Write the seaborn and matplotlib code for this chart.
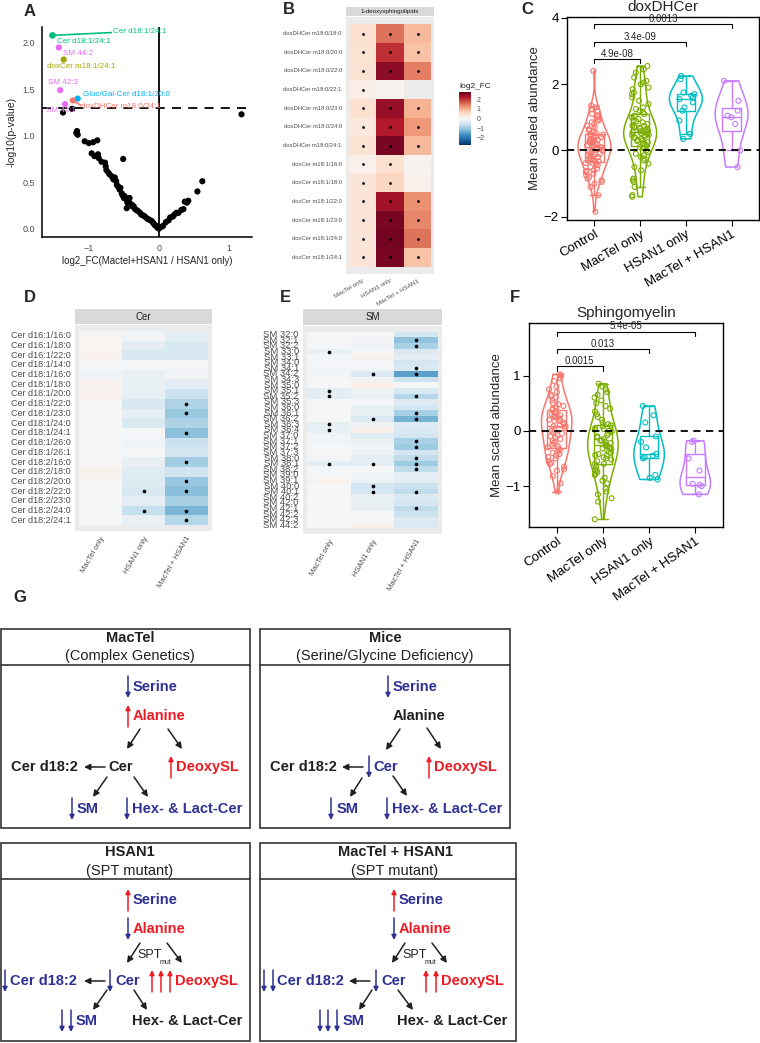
import numpy as np
import pandas as pd
import matplotlib
matplotlib.use("Agg")
import matplotlib.pyplot as plt
import seaborn as sns
from matplotlib.patches import Rectangle

sns.set_style("white")
plt.rcParams['font.family'] = ['Liberation Sans', 'DejaVu Sans']

# ---------------- DATA ----------------
# Panel A: volcano (black points)
vol_x = [-1.37,-1.24,-1.17,-1.18,-1.16,-1.06,-1.00,-0.94,-0.88,-0.96,-0.92,-0.87,-0.86,-0.82,-0.51,-0.77,-0.76,-0.75,
         -0.72,-0.70,-0.67,-0.65,-0.63,-0.61,-0.60,-0.58,-0.56,-0.55,-0.53,-0.52,-0.50,-0.49,-0.46,-0.45,-0.43,-0.42,
         -0.39,-0.38,-0.36,-0.46,-0.34,-0.32,-0.30,-0.27,-0.25,-0.22,-0.20,-0.17,-0.15,-0.12,-0.10,-0.08,-0.06,-0.04,
         -0.02,0.0,0.04,0.06,0.10,0.14,0.16,0.20,0.22,0.25,0.28,0.32,0.35,0.37,0.40,0.42,0.55,0.62,1.18]
vol_y = [1.25,1.29,1.05,1.03,1.01,0.94,0.92,0.93,0.95,0.81,0.78,0.80,0.76,0.72,0.75,0.71,0.67,0.63,
         0.60,0.58,0.56,0.53,0.55,0.51,0.47,0.45,0.42,0.44,0.38,0.36,0.33,0.35,0.31,0.28,0.29,0.33,
         0.26,0.24,0.24,0.22,0.21,0.20,0.19,0.17,0.15,0.14,0.13,0.11,0.10,0.09,0.08,0.06,0.04,0.03,
         0.01,0.0,0.02,0.03,0.07,0.09,0.12,0.13,0.15,0.17,0.17,0.20,0.21,0.29,0.28,0.30,0.40,0.51,1.23]
# labelled (significant) lipids
lab_names = ["Cer d18:1/24:1", "Cer d18:1/24:1", "SM 44:2", "doxCer m18:1/24:1", "SM 42:3",
             "Gluc/Gal-Cer d18:1/20:0", "doxDHCer m18:0/24:1", "SM 42:1"]
lab_cls = ["Cer", "Cer", "SM", "doxCer", "SM", "Gluc/Gal-Cer", "doxDHCer", "SM"]
lab_x = [-1.52, -1.52, -1.43, -1.36, -1.41, -1.16, -1.23, -1.34]
lab_y = [2.08, 2.08, 1.95, 1.82, 1.49, 1.40, 1.38, 1.34]
cls_pal = {"doxDHCer": "#F8766D", "doxCer": "#A3A500", "Cer": "#00BF7D",
           "Gluc/Gal-Cer": "#00B0F6", "SM": "#E76BF3"}

heat_cols = ["MacTel only", "HSAN1 only", "MacTel + HSAN1"]

# Panel B
B_rows = ["doxDHCer m18:0/18:0", "doxDHCer m18:0/20:0", "doxDHCer m18:0/22:0", "doxDHCer m18:0/22:1",
          "doxDHCer m18:0/23:0", "doxDHCer m18:0/24:0", "doxDHCer m18:0/24:1", "doxCer m18:1/16:0",
          "doxCer m18:1/18:0", "doxCer m18:1/22:0", "doxCer m18:1/23:0", "doxCer m18:1/24:0", "doxCer m18:1/24:1"]
B_mactel = [0.45, 0.4, 0.4, 0.2, 0.45, 0.3, 0.4, 0.15, 0.35, 0.35, 0.35, 0.35, 0.35]
B_hsan1 = [1.5, 2.0, 2.45, 0.1, 2.4, 2.2, 2.6, 0.45, 0.6, 2.3, 2.6, 2.65, 2.6]
B_both = [0.9, 0.8, 1.4, np.nan, 0.95, 1.2, 0.9, 0.1, 0.15, 1.25, 1.35, 1.5, 0.8]
B_sig_mactel = [1]*13
B_sig_hsan1 = [1, 1, 1, 0, 1, 1, 1, 1, 1, 1, 1, 1, 1]
B_sig_both = [1, 1, 1, 0, 1, 1, 1, 0, 0, 1, 1, 1, 1]

# Panel D
D_rows = ["Cer d16:1/16:0", "Cer d16:1/18:0", "Cer d16:1/22:0", "Cer d18:1/14:0", "Cer d18:1/16:0",
          "Cer d18:1/18:0", "Cer d18:1/20:0", "Cer d18:1/22:0", "Cer d18:1/23:0", "Cer d18:1/24:0",
          "Cer d18:1/24:1", "Cer d18:1/26:0", "Cer d18:1/26:1", "Cer d18:2/16:0", "Cer d18:2/18:0",
          "Cer d18:2/20:0", "Cer d18:2/22:0", "Cer d18:2/23:0", "Cer d18:2/24:0", "Cer d18:2/24:1"]
D_mactel = [0.03, 0.06, 0.12, 0.0, -0.12, 0.08, 0.15, 0.0, 0.0, 0.0, 0.0, 0.0, 0.02, 0.02, 0.1,
            0.03, 0.0, 0.0, -0.05, 0.0]
D_hsan1 = [-0.1, -0.3, -0.45, -0.03, -0.2, -0.2, -0.25, -0.45, -0.25, -0.45, -0.05, -0.1, -0.05, -0.2,
           -0.35, -0.35, -0.45, -0.3, -0.65, -0.2]
D_both = [-0.3, -0.45, -0.45, -0.05, -0.1, -0.3, -0.6, -0.85, -1.05, -0.85, -1.15, -0.6, -0.5, -0.95,
          -0.55, -1.05, -1.15, -0.9, -1.25, -0.8]
D_sig_mactel = [0]*20
D_sig_hsan1 = [0]*16 + [1, 0, 1, 0]
D_sig_both = [0, 0, 0, 0, 0, 0, 0, 1, 1, 0, 1, 0, 0, 1, 0, 1, 1, 0, 1, 1]

# Panel E
E_rows = ["SM 32:0", "SM 32:1", "SM 32:2", "SM 33:0", "SM 33:1", "SM 34:0", "SM 34:1", "SM 34:2", "SM 34:3",
          "SM 35:0", "SM 35:1", "SM 35:2", "SM 35:3", "SM 36:0", "SM 36:1", "SM 36:2", "SM 36:3", "SM 36:4",
          "SM 37:0", "SM 37:1", "SM 37:2", "SM 37:3", "SM 38:0", "SM 38:1", "SM 38:2", "SM 39:0", "SM 39:1",
          "SM 40:0", "SM 40:1", "SM 40:2", "SM 42:0", "SM 42:1", "SM 42:2", "SM 42:3", "SM 44:2"]
E_mactel = [0, -0.05, -0.05, -0.2, -0.05, -0.05, -0.1, -0.1, -0.05, 0.0, -0.3, -0.3, -0.05, -0.05, -0.05, 0.0,
            -0.25, -0.25, -0.1, -0.1, -0.05, 0.05, -0.05, -0.3, -0.05, -0.05, 0.1, 0.0, 0.0, 0.05, 0.0, 0.0, 0.0,
            -0.05, 0.0]
E_hsan1 = [0, -0.1, -0.1, 0.0, 0.1, -0.05, -0.1, -0.4, -0.1, 0.2, -0.15, -0.2, -0.05, -0.2, -0.2, -0.4,
           -0.15, 0.15, -0.35, -0.2, -0.1, -0.15, -0.3, -0.3, 0.0, -0.1, -0.15, -0.5, -0.5, -0.2, -0.2, -0.2,
           -0.05, -0.05, 0.15]
E_both = [-0.5, -1.1, -0.9, -0.4, -0.3, -0.5, -0.4, -1.5, -0.6, -0.05, -0.45, -0.8, -0.35, -0.5, -0.9, -1.3,
          -0.35, -0.4, -0.5, -0.9, -1.0, -0.5, -0.7, -1.0, -0.7, -0.3, -0.3, -0.6, -0.7, -0.4, -0.5, -0.7,
          -0.6, -0.4, -0.4]
E_sig_mactel = [1 if i in (3, 10, 11, 16, 17, 23) else 0 for i in range(35)]
E_sig_hsan1 = [1 if i in (7, 15, 23, 27, 28) else 0 for i in range(35)]
E_sig_both = [1 if i in (1, 2, 6, 7, 11, 14, 15, 19, 20, 22, 23, 24, 28, 31) else 0 for i in range(35)]

# Panels C / F
groups = ["Control", "MacTel only", "HSAN1 only", "MacTel + HSAN1"]
group_pal = {"Control": "#F8766D", "MacTel only": "#7CAE00", "HSAN1 only": "#00BFC4", "MacTel + HSAN1": "#C77CFF"}
C_control = [-1.85, -1.35, -1.1, -1.0, -0.95, -0.9, -0.85, -0.8, -0.75, -0.7, -0.65, -0.6, -0.55, -0.5, -0.45,
             -0.4, -0.38, -0.35, -0.3, -0.28, -0.25, -0.2, -0.18, -0.15, -0.12, -0.1, -0.08, -0.05, -0.02, 0.0,
             0.02, 0.05, 0.08, 0.1, 0.12, 0.15, 0.18, 0.2, 0.22, 0.25, 0.28, 0.3, 0.32, 0.35, 0.38, 0.4, 0.42,
             0.45, 0.5, 0.55, 0.6, 0.65, 0.7, 0.75, 0.8, 0.85, 0.9, 0.95, 1.0, 1.05, 1.1, 1.2, 1.25, 1.3, 1.35,
             2.4, -0.62, 0.27, 0.48, -0.22, 0.33, 0.06, -0.33, 0.15, 0.52]
C_mactel = [-1.4, -1.35, -1.1, -0.95, -0.9, -0.85, -0.6, -0.5, -0.4, -0.3, -0.2, -0.15, -0.1, -0.05, 0.0, 0.05,
            0.1, 0.15, 0.2, 0.22, 0.25, 0.3, 0.32, 0.35, 0.38, 0.4, 0.42, 0.45, 0.48, 0.5, 0.52, 0.55, 0.58,
            0.6, 0.62, 0.65, 0.68, 0.7, 0.72, 0.75, 0.8, 0.85, 0.9, 0.95, 1.0, 1.05, 1.1, 1.15, 1.2, 1.25, 1.3,
            1.4, 1.5, 1.6, 1.7, 1.85, 1.9, 2.0, 2.1, 2.2, 2.35, 2.45, 2.55, 0.28, 0.46, 0.64, 0.88, -0.25,
            1.75, 2.05, 0.55, 0.74]
C_hsan1 = [0.35, 0.5, 0.9, 1.2, 1.3, 1.45, 1.55, 1.6, 1.65, 1.7, 1.75, 2.15, 2.25]
C_both = [-0.5, 0.0, 0.8, 1.0, 1.05, 1.2, 1.5, 2.1]
C_brackets = [(1, 2.76, "4.9e-08"), (2, 3.27, "3.4e-09"), (3, 3.82, "0.0013")]

F_control = [-1.1, -0.95, -0.82, -0.72, -0.7, -0.65, -0.6, -0.58, -0.55, -0.5, -0.48, -0.45, -0.42, -0.4, -0.35,
             -0.32, -0.3, -0.28, -0.25, -0.2, -0.18, -0.15, -0.12, -0.1, -0.08, -0.05, -0.03, 0.0, 0.02, 0.05,
             0.08, 0.1, 0.12, 0.15, 0.18, 0.2, 0.22, 0.25, 0.27, 0.3, 0.32, 0.35, 0.38, 0.4, 0.42, 0.45, 0.48,
             0.5, 0.55, 0.6, 0.62, 0.65, 0.7, 0.75, 0.8, 0.9, 0.95, 1.0, 1.02, 0.28, 0.33, 0.18, -0.22, -0.38,
             0.08, 0.24]
F_mactel = [-1.6, -1.28, -1.22, -1.15, -1.1, -1.05, -0.95, -0.9, -0.85, -0.8, -0.78, -0.75, -0.72, -0.7, -0.65,
            -0.6, -0.55, -0.52, -0.5, -0.48, -0.45, -0.42, -0.4, -0.38, -0.35, -0.32, -0.3, -0.28, -0.25, -0.22,
            -0.2, -0.18, -0.15, -0.12, -0.1, -0.08, -0.05, -0.02, 0.0, 0.03, 0.05, 0.08, 0.1, 0.12, 0.15, 0.2,
            0.25, 0.3, 0.35, 0.4, 0.45, 0.5, 0.55, 0.6, 0.65, 0.7, 0.75, 0.8, 0.85, -0.27, -0.33, -0.17, -0.6,
            0.02, -0.44]
F_hsan1 = [-0.88, -0.85, -0.8, -0.5, -0.48, -0.45, -0.42, -0.3, -0.2, -0.1, 0.15, 0.28, 0.45]
F_both = [-1.15, -1.0, -0.98, -0.96, -0.72, -0.5, -0.2, -0.18]
F_brackets = [(1, 1.17, "0.0015"), (2, 1.48, "0.013"), (3, 1.79, "5.4e-05")]

# ---------------- FIGURE ----------------
W, H = 760, 1043
fig = plt.figure(figsize=(7.6, 10.43), dpi=100)


def rect(l, t, r, b):
    return [l / W, 1 - b / H, (r - l) / W, (b - t) / H]


gax = fig.add_axes([0, 0, 1, 1])
gax.set_xlim(0, W)
gax.set_ylim(H, 0)
gax.axis("off")

GREY = "#4D4D4D"

# ---- Panel A ----
axA = fig.add_axes(rect(42, 27, 252, 237))
sns.scatterplot(x=vol_x, y=vol_y, color="black", s=20, edgecolor="none", ax=axA, zorder=3)
dfl = pd.DataFrame({"x": lab_x, "y": lab_y, "cls": lab_cls})
sns.scatterplot(data=dfl, x="x", y="y", hue="cls", palette=cls_pal, s=20, edgecolor="none",
                legend=False, ax=axA, zorder=4)
axA.axhline(1.3, color="black", lw=1.3, ls=(0, (5, 4)), zorder=2)
axA.axvline(0, color="black", lw=1.3, zorder=2)
axA.set_xlim(-1.67, 1.33)
axA.set_ylim(-0.09, 2.17)
axA.set_xticks([-1, 0, 1])
axA.set_yticks([0, 0.5, 1.0, 1.5, 2.0])
axA.set_yticklabels(["0.0", "0.5", "1.0", "1.5", "2.0"])
for s in ["top", "right"]:
    axA.spines[s].set_visible(False)
for s in ["left", "bottom"]:
    axA.spines[s].set_color("black")
    axA.spines[s].set_linewidth(1.1)
axA.tick_params(labelsize=6.5, colors=GREY, length=3, width=0.8, pad=2)
axA.tick_params(axis="both", color="black")
axA.set_xlabel("log2_FC(Mactel+HSAN1 / HSAN1 only)", fontsize=7, labelpad=2)
axA.set_ylabel("-log10(p-value)", fontsize=7.5, labelpad=4)
lab_pos = [(-0.66, 2.12), (-1.46, 2.01), (-1.37, 1.89), (-1.60, 1.74), (-1.59, 1.57),
           (-1.09, 1.44), (-1.11, 1.31), (-1.61, 1.27)]
for (tx, ty), name, cls in zip(lab_pos, lab_names, lab_cls):
    axA.text(tx, ty, name, color=cls_pal[cls], fontsize=5.8, ha="left", va="center", zorder=5)
axA.plot([lab_x[0], -0.68], [lab_y[0], 2.11], color=cls_pal["Cer"], lw=1.2, zorder=4)
axA.plot([lab_x[6], -1.12], [lab_y[6], 1.33], color=cls_pal["doxDHCer"], lw=1.2, zorder=4)


# ---- heatmaps ----
def heat(rect_main, rect_strip, rows, v1, v2, v3, s1, s2, s3, title, yfs, xfs, xrot, dot_s,
         strip_fs, cbar_ax=None):
    ax = fig.add_axes(rect_main)
    sax = fig.add_axes(rect_strip)
    mat = pd.DataFrame({heat_cols[0]: v1, heat_cols[1]: v2, heat_cols[2]: v3}, index=rows)
    sns.heatmap(mat, ax=ax, cmap="RdBu_r", vmin=-2.75, vmax=2.75, cbar=cbar_ax is not None,
                cbar_ax=cbar_ax, xticklabels=True, yticklabels=True)
    sig = np.array([s1, s2, s3]).T
    ii, jj = np.nonzero(sig)
    ax.scatter(jj + 0.5, ii + 0.5, s=dot_s, color="black", zorder=3, linewidths=0)
    n = len(rows)
    ax.set_facecolor("#EBEBEB")
    ax.set_xlim(-0.1, 3.1)
    ax.set_ylim(n + 0.03 * n, -0.03 * n)
    ax.tick_params(axis="y", labelsize=yfs, colors="#333333", length=2, width=0.6, pad=1, labelcolor=GREY)
    ax.tick_params(axis="x", labelsize=xfs, colors="#333333", length=2, width=0.6, pad=1, labelcolor=GREY)
    plt.setp(ax.get_yticklabels(), rotation=0)
    plt.setp(ax.get_xticklabels(), rotation=xrot, ha="right", rotation_mode="anchor")
    ax.set_xlabel("")
    ax.set_ylabel("")
    sax.set_facecolor("#D9D9D9")
    sax.set_xticks([])
    sax.set_yticks([])
    for sp in sax.spines.values():
        sp.set_visible(False)
    sax.text(0.5, 0.5, title, ha="center", va="center", fontsize=strip_fs, color="#1A1A1A",
             transform=sax.transAxes)
    return ax


cax = fig.add_axes(rect(459, 92, 471, 145))
axB = heat(rect(346, 17, 434, 274), rect(346, 7, 434, 16), B_rows, B_mactel, B_hsan1, B_both,
           B_sig_mactel, B_sig_hsan1, B_sig_both, "1-deoxysphingolipids", 4.2, 4.5, 30, 4, 4.5, cbar_ax=cax)
cb = axB.collections[0].colorbar
cb.outline.set_visible(False)
cb.set_ticks([-2, -1, 0, 1, 2])
cb.ax.tick_params(labelsize=5, length=2, color="white", colors=GREY, pad=2)
cb.ax.tick_params(color="white")
fig.text(459 / W, 1 - 86 / H, "log2_FC", fontsize=6, ha="left", va="center")

heat(rect(75, 325, 212, 531), rect(75, 309, 212, 324), D_rows, D_mactel, D_hsan1, D_both,
     D_sig_mactel, D_sig_hsan1, D_sig_both, "Cer", 6.5, 5.5, 60, 7, 7)
heat(rect(303, 326, 442, 534), rect(303, 309, 442, 325), E_rows, E_mactel, E_hsan1, E_both,
     E_sig_mactel, E_sig_hsan1, E_sig_both, "SM", 6.8, 5.5, 60, 7, 7)


# ---- violin panels ----
def violin_panel(r, vals_list, title, ylim, yticks, brackets, drop, xrot, vwidth):
    ax = fig.add_axes(r)
    df = pd.DataFrame({"group": np.repeat(groups, [len(v) for v in vals_list]),
                       "val": np.concatenate([np.asarray(v, float) for v in vals_list])})
    sns.violinplot(data=df, x="group", y="val", hue="group", order=groups, hue_order=groups,
                   palette=group_pal, fill=False, inner=None, cut=0, density_norm="width", width=vwidth,
                   linewidth=1.1, legend=False, ax=ax)
    sns.boxplot(data=df, x="group", y="val", hue="group", order=groups, hue_order=groups,
                palette=group_pal, fill=False, width=0.4, showfliers=False, linewidth=1.0,
                legend=False, ax=ax)
    nb = len(ax.collections)
    np.random.seed(3)
    sns.stripplot(data=df, x="group", y="val", hue="group", order=groups, hue_order=groups,
                  palette=group_pal, jitter=0.2, size=3.6, linewidth=0.8, legend=False, ax=ax)
    for coll in ax.collections[nb:]:
        fc = coll.get_facecolor()
        coll.set_edgecolor(fc)
        coll.set_facecolor("none")
    ax.axhline(0, color="black", lw=1.3, ls=(0, (4, 3)), zorder=5)
    for g, yb, lab in brackets:
        ax.plot([0, 0, g, g], [yb - drop, yb, yb, yb - drop], color="black", lw=0.8, zorder=6)
        ax.text(g / 2, yb + drop * 0.1, lab, ha="center", va="bottom", fontsize=7, zorder=6)
    ax.set_xlim(-0.6, 3.6)
    ax.set_ylim(*ylim)
    ax.set_yticks(yticks)
    for sp in ax.spines.values():
        sp.set_visible(True)
        sp.set_color("black")
        sp.set_linewidth(1.0)
    ax.tick_params(labelsize=9.5, length=4, width=0.8, color="black", labelcolor="black", pad=2,
                   bottom=True, left=True)
    plt.setp(ax.get_xticklabels(), rotation=xrot, ha="right", rotation_mode="anchor")
    ax.set_xlabel("")
    ax.set_ylabel("Mean scaled abundance", fontsize=9.5, labelpad=2)
    ax.set_title(title, fontsize=11, pad=4)
    return ax


violin_panel(rect(567, 17, 759, 220), [C_control, C_mactel, C_hsan1, C_both], "doxDHCer",
             (-2.1, 4.03), [-2, 0, 2, 4], C_brackets, 0.13, 30, 0.72)
violin_panel(rect(529, 323, 723, 527), [F_control, F_mactel, F_hsan1, F_both], "Sphingomyelin",
             (-1.74, 1.95), [-1, 0, 1], F_brackets, 0.08, 35, 0.66)

# ---- panel letters ----
for lt, (x, y) in {"A": (30, 12), "B": (289, 10), "C": (527, 10), "D": (30, 297), "E": (285, 297),
                   "F": (515, 297), "G": (20, 598)}.items():
    gax.text(x, y, lt, fontsize=12, fontweight="bold", ha="center", va="center")

# ---- Panel G schematic ----
BLUE = "#2E3192"
RED = "#ED1C24"
BLK = "#231F20"


def txt(x, y, s, c=BLK, bold=True, fs=10.5, ha="left"):
    gax.text(x, y, s, color=c, fontsize=fs, fontweight="bold" if bold else "normal", ha=ha, va="center")


def arrow(x0, y0, x1, y1, c=BLK, lw=1.1, ms=9):
    gax.annotate("", xy=(x1, y1), xytext=(x0, y0),
                 arrowprops=dict(arrowstyle="-|>", color=c, lw=lw, mutation_scale=ms, shrinkA=0, shrinkB=0))


def up(x, y, c):
    arrow(x, y + 11, x, y - 11, c, lw=1.1, ms=7)


def down(x, y, c):
    arrow(x, y - 11, x, y + 11, c, lw=1.1, ms=7)


def box(x0, y0, x1, y1, ysep):
    gax.add_patch(Rectangle((x0, y0), x1 - x0, y1 - y0, fill=False, lw=1.2, ec="#333333"))
    gax.plot([x0, x1], [ysep, ysep], color="#333333", lw=1.2)


box(1, 629, 250, 828, 665)
box(260, 629, 510, 828, 665)
box(1, 843, 250, 1041, 879)
box(260, 843, 516, 1041, 879)

# MacTel
txt(130, 638, "MacTel", ha="center")
txt(130, 656, "(Complex Genetics)", bold=False, ha="center")
down(128, 687, BLUE); txt(133, 687, "Serine", BLUE)
up(128, 716, RED); txt(133, 716, "Alanine", RED)
arrow(140, 729, 127, 749); arrow(168, 729, 182, 749)
txt(11, 767, "Cer d18:2"); arrow(105, 767, 84, 767); txt(108, 767, "Cer")
up(171, 767, RED); txt(176, 767, "DeoxySL", RED)
arrow(107, 777, 93, 797); arrow(134, 777, 148, 797)
down(72, 809, BLUE); txt(77, 809, "SM", BLUE)
down(127, 809, BLUE); txt(132, 809, "Hex- & Lact-Cer", BLUE)

# Mice
txt(385, 638, "Mice", ha="center")
txt(385, 656, "(Serine/Glycine Deficiency)", bold=False, ha="center")
down(388, 687, BLUE); txt(393, 687, "Serine", BLUE)
txt(393, 716, "Alanine")
arrow(400, 729, 386, 750); arrow(427, 728, 441, 749)
txt(270, 767, "Cer d18:2"); arrow(363, 767, 342, 767)
down(369, 767, BLUE); txt(373, 767, "Cer", BLUE)
up(429, 767, RED); txt(434, 767, "DeoxySL", RED)
arrow(362, 778, 350, 797); arrow(393, 776, 407, 796)
down(331, 809, BLUE); txt(337, 809, "SM", BLUE)
down(387, 809, BLUE); txt(392, 809, "Hex- & Lact-Cer", BLUE)

# HSAN1
txt(130, 852, "HSAN1", ha="center")
txt(130, 871, "(SPT mutant)", bold=False, ha="center")
up(128, 900, RED); txt(133, 900, "Serine", BLUE)
down(128, 929, BLUE); txt(133, 929, "Alanine", RED)
arrow(140, 943, 127, 963); arrow(167, 943, 182, 963)
txt(137, 955, "SPT", bold=False, fs=9); txt(160, 962, "mut", bold=False, fs=5)
down(5, 981, BLUE); txt(10, 981, "Cer d18:2", BLUE); arrow(105, 981, 84, 981)
down(110, 981, BLUE); txt(115, 981, "Cer", BLUE)
for xx in (152, 161, 170):
    up(xx, 981, RED)
txt(175, 981, "DeoxySL", RED)
arrow(107, 990, 93, 1010); arrow(134, 990, 147, 1010)
down(62, 1021, BLUE); down(71, 1021, BLUE); txt(76, 1021, "SM", BLUE)
txt(132, 1021, "Hex- & Lact-Cer")

# MacTel + HSAN1
txt(395, 852, "MacTel + HSAN1", ha="center")
txt(395, 871, "(SPT mutant)", bold=False, ha="center")
up(394, 900, RED); txt(399, 900, "Serine", BLUE)
down(394, 929, BLUE); txt(399, 929, "Alanine", RED)
arrow(405, 943, 392, 963); arrow(432, 943, 447, 963)
txt(402, 955, "SPT", bold=False, fs=9); txt(425, 962, "mut", bold=False, fs=5)
down(264, 981, BLUE); down(273, 981, BLUE); txt(277, 981, "Cer d18:2", BLUE)
arrow(370, 981, 349, 981)
down(376, 981, BLUE); txt(381, 981, "Cer", BLUE)
up(426, 981, RED); up(436, 981, RED); txt(441, 981, "DeoxySL", RED)
arrow(372, 990, 359, 1010); arrow(398, 990, 413, 1010)
down(320, 1021, BLUE); down(328, 1021, BLUE); down(337, 1021, BLUE); txt(343, 1021, "SM", BLUE)
txt(397, 1021, "Hex- & Lact-Cer")

fig.savefig("out.png", dpi=100)
